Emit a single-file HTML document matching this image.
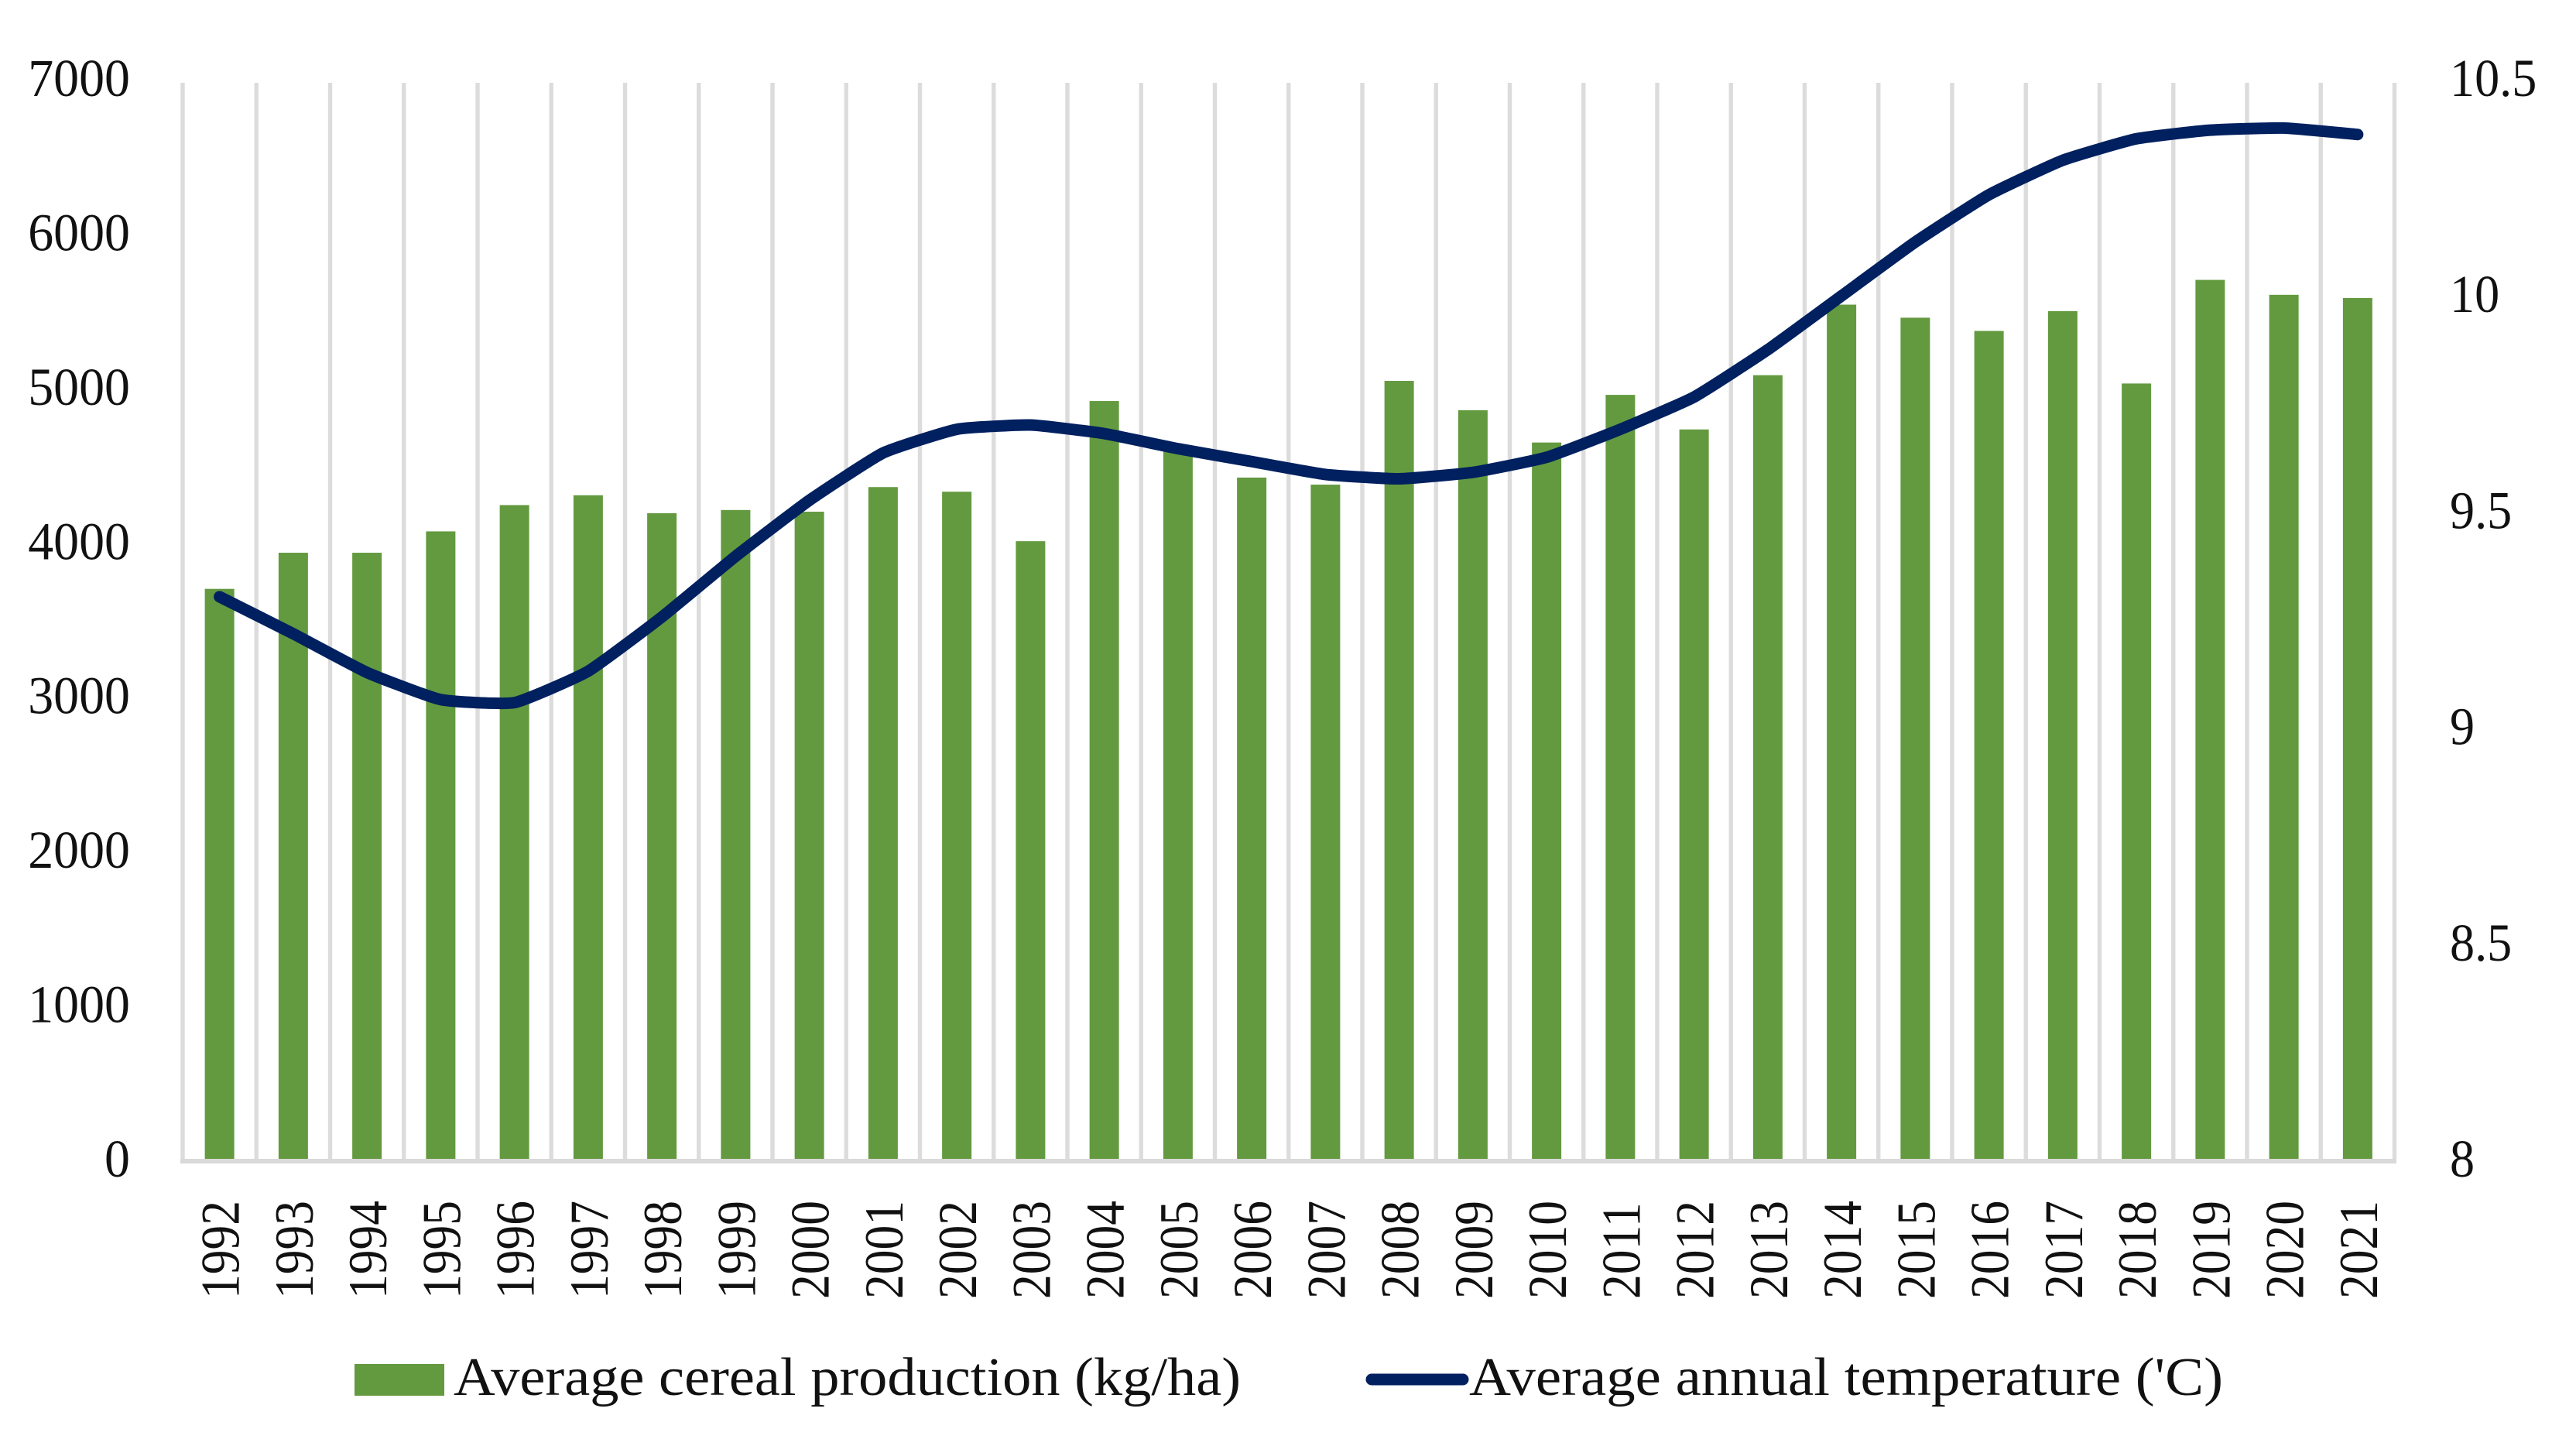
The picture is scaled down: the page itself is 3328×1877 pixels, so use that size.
<!DOCTYPE html>
<html>
<head>
<meta charset="utf-8">
<title>Average cereal production and annual temperature</title>
<style>
  html, body { margin: 0; padding: 0; background: #fff; }
  #chart { display: block; width: 3328px; height: 1877px; }
  text { font-family: "Liberation Serif", serif; fill: #111; }
</style>
</head>
<body>
<svg id="chart" xmlns="http://www.w3.org/2000/svg" width="3328" height="1877" viewBox="0 0 3328 1877">
  <rect x="0" y="0" width="3328" height="1877" fill="#ffffff"/>
  <g id="grid"></g>
  <rect x="233" y="1497" width="2863" height="6" fill="#d9d9d9"/>
  <g id="bars"></g>
  <path id="temp-line" fill="none" stroke="#00205f" stroke-width="15" stroke-linecap="round" stroke-linejoin="round"></path>
  <g id="left-axis"></g>
  <g id="right-axis"></g>
  <g id="x-axis"></g>
  <g>
    <rect x="458" y="1762" width="116" height="41" fill="#639a3f"/>
    <text x="586" y="1802" font-size="70" textLength="1017" lengthAdjust="spacingAndGlyphs">Average cereal production (kg/ha)</text>
    <line x1="1772" y1="1782" x2="1890" y2="1782" stroke="#00205f" stroke-width="15" stroke-linecap="round"/>
    <text x="1898" y="1802" font-size="70" textLength="974" lengthAdjust="spacingAndGlyphs">Average annual temperature ('C)</text>
  </g>
</svg>
<script>
const years = [1992,1993,1994,1995,1996,1997,1998,1999,2000,2001,2002,2003,2004,2005,2006,2007,2008,2009,2010,2011,2012,2013,2014,2015,2016,2017,2018,2019,2020,2021];
const cerealValues = [3708,3943,3943,4082,4253,4317,4200,4221,4210,4370,4340,4018,4930,4610,4432,4386,5061,4870,4660,4970,4745,5098,5557,5472,5386,5515,5044,5718,5621,5600];
const temperatureValues = [9.306,9.22,9.13,9.067,9.06,9.133,9.259,9.40,9.53,9.64,9.695,9.705,9.685,9.65,9.62,9.59,9.58,9.595,9.63,9.695,9.77,9.88,10.005,10.13,10.24,10.32,10.37,10.39,10.395,10.38];
const leftTicks = [0,1000,2000,3000,4000,5000,6000,7000];
const rightTicks = ["8","8.5","9","9.5","10","10.5"];

const NS = 'http://www.w3.org/2000/svg';
const plot = { left: 236, right: 3093.5, top: 107, bottom: 1497 };
const bandWidth = (plot.right - plot.left) / years.length;
const barWidth = 38;
const labelBaseZero = 1520;
const labelBaseTop = 124;

function xBand(i) { return plot.left + bandWidth * i; }
function xCenter(i) { return xBand(i) + bandWidth / 2; }
function yLeft(v) { return plot.bottom - (v / 7000) * (plot.bottom - plot.top); }
function yRight(v) { return plot.bottom - ((v - 8) / 2.5) * (plot.bottom - plot.top); }
function labelLeft(v) { return labelBaseZero - (v / 7000) * (labelBaseZero - labelBaseTop); }
function labelRight(v) { return labelBaseZero - ((v - 8) / 2.5) * (labelBaseZero - labelBaseTop); }
function make(tag) { return document.createElementNS(NS, tag); }

const gridGroup = document.getElementById('grid');
for (let i = 0; i <= years.length; i++) {
  const g = make('rect');
  g.setAttribute('x', xBand(i) - 2.7);
  g.setAttribute('y', plot.top);
  g.setAttribute('width', 5.4);
  g.setAttribute('height', plot.bottom - plot.top);
  g.setAttribute('fill', '#dcdcdc');
  
  
  gridGroup.appendChild(g);
}

const barGroup = document.getElementById('bars');
cerealValues.forEach(function (v, i) {
  const b = make('rect');
  b.setAttribute('x', xCenter(i) - barWidth / 2);
  b.setAttribute('y', yLeft(v));
  b.setAttribute('width', barWidth);
  b.setAttribute('height', plot.bottom - yLeft(v));
  b.setAttribute('fill', '#639a3f');
  
  
  barGroup.appendChild(b);
});

// Lightly smoothed line through the data points
const tension = 1 / 14;
const pts = temperatureValues.map(function (v, i) { return [xCenter(i), yRight(v)]; });
let d = 'M' + pts[0][0] + ' ' + pts[0][1];
for (let i = 0; i < pts.length - 1; i++) {
  const p0 = pts[Math.max(i - 1, 0)];
  const p1 = pts[i];
  const p2 = pts[i + 1];
  const p3 = pts[Math.min(i + 2, pts.length - 1)];
  const c1x = p1[0] + (p2[0] - p0[0]) * tension;
  const c1y = p1[1] + (p2[1] - p0[1]) * tension;
  const c2x = p2[0] - (p3[0] - p1[0]) * tension;
  const c2y = p2[1] - (p3[1] - p1[1]) * tension;
  d += ' C' + c1x + ' ' + c1y + ' ' + c2x + ' ' + c2y + ' ' + p2[0] + ' ' + p2[1];
}
document.getElementById('temp-line').setAttribute('d', d);

const leftGroup = document.getElementById('left-axis');
leftTicks.forEach(function (v) {
  const t = make('text');
  t.setAttribute('transform', 'translate(168 ' + labelLeft(v) + ') scale(0.955 1)');
  t.setAttribute('text-anchor', 'end');
  t.setAttribute('font-size', '69');
  
  
  t.textContent = String(v);
  leftGroup.appendChild(t);
});

const rightGroup = document.getElementById('right-axis');
rightTicks.forEach(function (label) {
  const t = make('text');
  t.setAttribute('transform', 'translate(3165 ' + labelRight(parseFloat(label)) + ') scale(0.93 1)');
  t.setAttribute('font-size', '69');
  
  
  t.textContent = label;
  rightGroup.appendChild(t);
});

const xGroup = document.getElementById('x-axis');
years.forEach(function (year, i) {
  const t = make('text');
  t.setAttribute('transform', 'translate(' + (xCenter(i) + 25) + ' 1678) rotate(-90) scale(0.895 1)');
  t.setAttribute('font-size', '71');
  
  
  t.textContent = String(year);
  xGroup.appendChild(t);
});
</script>
</body>
</html>
